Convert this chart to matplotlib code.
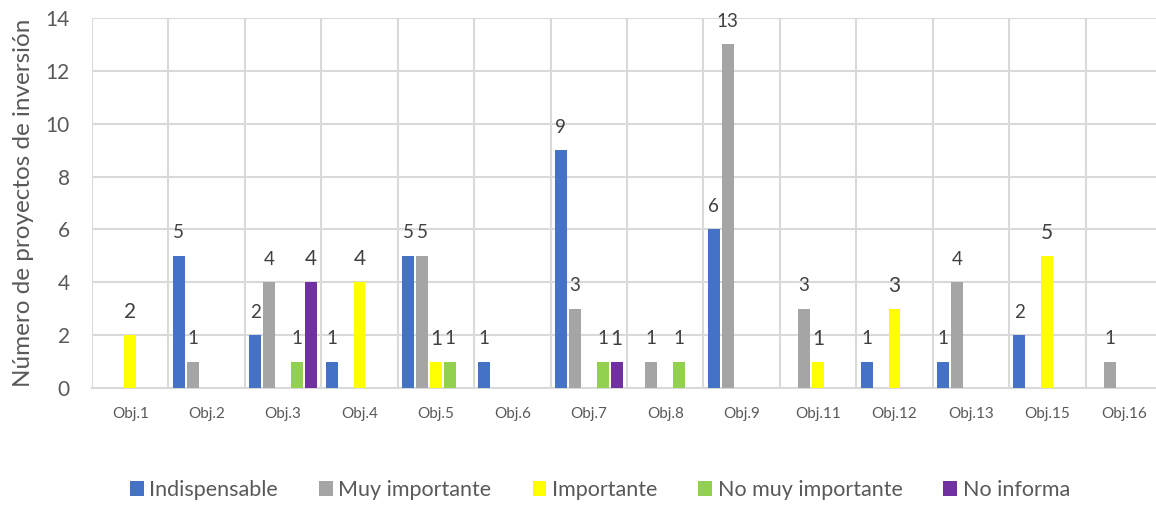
import matplotlib
matplotlib.use("Agg")
import matplotlib.pyplot as plt
import numpy as np
from matplotlib.patches import Patch

categories = ["Obj.1", "Obj.2", "Obj.3", "Obj.4", "Obj.5", "Obj.6", "Obj.7",
              "Obj.8", "Obj.9", "Obj.11", "Obj.12", "Obj.13", "Obj.15", "Obj.16"]
series_names = ["Indispensable", "Muy importante", "Importante", "No muy importante", "No informa"]
indispensable   = [0, 5, 2, 1, 5, 1, 9, 0, 6, 0, 1, 1, 2, 0]
muy_importante  = [0, 1, 4, 0, 5, 0, 3, 1, 13, 3, 0, 4, 0, 1]
importante      = [2, 0, 0, 4, 1, 0, 0, 0, 0, 1, 3, 0, 5, 0]
no_muy_import   = [0, 0, 1, 0, 1, 0, 1, 1, 0, 0, 0, 0, 0, 0]
no_informa      = [0, 0, 4, 0, 0, 0, 1, 0, 0, 0, 0, 0, 0, 0]
yticks = [0, 2, 4, 6, 8, 10, 12, 14]

series = [indispensable, muy_importante, importante, no_muy_import, no_informa]
colors = ["#4472C4", "#A5A5A5", "#FFFF00", "#92D050", "#7030A0"]
label_sizes = [13.5, 13.5, 15, 13.5, 15]

plt.rcParams['font.family'] = ['Lato', 'DejaVu Sans']

fig = plt.figure(figsize=(11.56, 5.05), dpi=100)
ax = fig.add_axes([92/1156, 117/505, 1070/1156, 370/505])

x = np.arange(len(categories))
slot = 0.183
bw = 0.157
for i, (vals, c, fs) in enumerate(zip(series, colors, label_sizes)):
    off = (i - 2) * slot
    for xi, v in zip(x, vals):
        if v == 0:
            continue
        ax.bar(xi + off, v, width=bw, color=c, zorder=3)
        ax.annotate(str(v), (xi + off, v), xytext=(0, 16.5), textcoords="offset points",
                    ha="center", va="center", fontsize=fs, color="#404040", zorder=4)

ax.set_xlim(-0.5, len(categories) - 0.5)
ax.set_ylim(0, 14)
ax.set_yticks(yticks)
ax.set_xticks(x)
ax.set_xticklabels(categories, fontsize=11, color="#595959")
ax.set_xticks(np.arange(-0.5, len(categories)), minor=True)
ax.tick_params(axis="x", which="both", length=0, pad=14)
ax.tick_params(axis="y", length=0, labelsize=15, labelcolor="#595959", pad=16)
ax.grid(axis="y", which="major", color="#D9D9D9", linewidth=1.5, zorder=0)
ax.grid(axis="x", which="minor", color="#D9D9D9", linewidth=1.5, zorder=0)
ax.grid(axis="x", which="major", visible=False)
for s in ["top", "right", "left"]:
    ax.spines[s].set_visible(False)
ax.spines["bottom"].set_color("#D9D9D9")
ax.spines["bottom"].set_linewidth(1.5)
ax.set_ylabel("Número de proyectos de inversión", fontsize=17.5, color="#595959", labelpad=8)

handles = [Patch(facecolor=c, edgecolor="none") for c in colors]
fig.legend(handles, series_names, loc="center", bbox_to_anchor=(600/1156, 1 - 490/505),
           ncol=5, frameon=False, fontsize=15.5, handlelength=0.65, handleheight=0.75,
           handletextpad=0.25, columnspacing=1.9, labelcolor="#595959")

fig.savefig("out.png", dpi=100)
